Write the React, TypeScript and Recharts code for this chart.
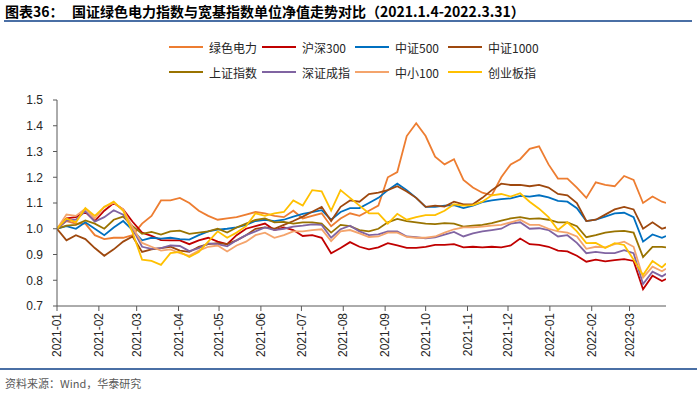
import React from 'react';
import { LineChart, Line, XAxis, YAxis } from 'recharts';

const dates = [
  '2021-01-04','2021-01-11','2021-01-18','2021-01-25','2021-02-01','2021-02-08','2021-02-15','2021-02-22','2021-03-01','2021-03-08',
  '2021-03-15','2021-03-22','2021-03-29','2021-04-05','2021-04-12','2021-04-19','2021-04-26','2021-05-03','2021-05-10','2021-05-17',
  '2021-05-24','2021-05-31','2021-06-07','2021-06-14','2021-06-21','2021-06-28','2021-07-05','2021-07-12','2021-07-19','2021-07-26',
  '2021-08-02','2021-08-09','2021-08-16','2021-08-23','2021-08-30','2021-09-06','2021-09-13','2021-09-20','2021-09-27','2021-10-04',
  '2021-10-11','2021-10-18','2021-10-25','2021-11-01','2021-11-08','2021-11-15','2021-11-22','2021-11-29','2021-12-06','2021-12-13',
  '2021-12-20','2021-12-27','2022-01-03','2022-01-10','2022-01-17','2022-01-24','2022-01-31','2022-02-07','2022-02-14','2022-02-21',
  '2022-02-28','2022-03-07','2022-03-14','2022-03-21','2022-03-28','2022-03-31',
];

const greenPower = [
  1.00,1.03,1.02,1.02,0.975,0.96,0.965,0.965,0.975,1.02,
  1.05,1.11,1.11,1.12,1.10,1.07,1.05,1.035,1.04,1.045,
  1.055,1.065,1.06,1.05,1.045,1.07,1.04,1.05,1.06,1.01,
  1.04,1.06,1.05,1.07,1.09,1.20,1.22,1.36,1.41,1.36,
  1.28,1.25,1.27,1.19,1.16,1.14,1.13,1.20,1.25,1.27,
  1.31,1.32,1.25,1.195,1.195,1.16,1.12,1.18,1.17,1.165,
  1.205,1.19,1.10,1.125,1.105,1.10,
];
const hs300 = [
  1.00,1.04,1.045,1.065,1.03,1.07,1.10,1.075,1.027,0.985,
  0.972,0.956,0.955,0.955,0.94,0.955,0.965,0.95,0.94,0.975,
  1.00,1.01,1.02,0.995,1.005,0.995,0.972,0.975,0.965,0.905,
  0.925,0.948,0.93,0.92,0.928,0.944,0.935,0.926,0.926,0.93,
  0.937,0.937,0.94,0.928,0.93,0.928,0.93,0.928,0.935,0.962,
  0.94,0.937,0.93,0.915,0.912,0.895,0.872,0.88,0.873,0.878,
  0.882,0.875,0.765,0.818,0.797,0.805,
];
const zz500 = [
  1.00,1.01,1.00,1.025,1.00,0.975,1.005,1.03,0.995,0.955,
  0.965,0.962,0.965,0.96,0.958,0.975,0.99,0.997,1.00,1.005,
  1.015,1.03,1.035,1.03,1.035,1.047,1.058,1.065,1.072,1.035,
  1.065,1.08,1.08,1.10,1.12,1.15,1.175,1.15,1.12,1.085,
  1.085,1.09,1.092,1.08,1.09,1.103,1.11,1.115,1.118,1.128,
  1.125,1.13,1.122,1.108,1.105,1.08,1.03,1.035,1.047,1.06,
  1.062,1.045,0.95,0.978,0.965,0.972,
];
const zz1000 = [
  1.00,0.955,0.975,0.96,0.925,0.895,0.92,0.95,0.97,0.91,
  0.92,0.925,0.93,0.915,0.91,0.93,0.94,0.944,0.94,0.955,
  0.975,1.00,1.005,1.00,1.015,1.03,1.047,1.066,1.085,1.03,
  1.085,1.11,1.105,1.135,1.14,1.15,1.165,1.145,1.12,1.085,
  1.09,1.086,1.105,1.095,1.095,1.12,1.15,1.175,1.17,1.17,
  1.165,1.17,1.16,1.135,1.13,1.10,1.03,1.035,1.055,1.075,
  1.085,1.075,1.00,1.025,1.00,1.005,
];
const shComposite = [
  1.00,1.012,1.015,1.032,1.02,1.00,1.035,1.047,1.01,0.98,
  0.988,0.977,0.99,0.993,0.98,0.985,0.99,1.00,0.985,1.005,
  1.02,1.034,1.04,1.025,1.027,1.02,1.025,1.025,1.02,0.985,
  1.015,1.01,0.995,0.99,1.00,1.025,1.038,1.03,1.025,1.02,
  1.018,1.022,1.02,1.008,1.012,1.015,1.022,1.032,1.04,1.045,
  1.038,1.04,1.035,1.025,1.025,1.01,0.967,0.975,0.985,0.99,
  0.992,0.985,0.89,0.93,0.93,0.928,
];
const szComponent = [
  1.00,1.032,1.035,1.068,1.028,1.045,1.072,1.055,1.00,0.93,
  0.922,0.925,0.935,0.933,0.913,0.925,0.943,0.94,0.932,0.955,
  0.975,0.99,1.005,0.995,1.00,1.008,1.012,1.017,1.015,0.965,
  0.998,1.012,0.99,0.975,0.978,0.99,0.99,0.97,0.967,0.963,
  0.967,0.977,0.988,0.97,0.982,0.99,0.995,1.00,1.02,1.025,
  1.00,1.002,0.995,0.97,0.975,0.945,0.905,0.91,0.905,0.905,
  0.917,0.905,0.785,0.833,0.815,0.825,
];
const sme100 = [
  1.00,1.055,1.05,1.078,1.04,1.085,1.10,1.075,1.005,0.945,
  0.93,0.915,0.92,0.905,0.895,0.915,0.93,0.935,0.912,0.935,
  0.95,0.975,0.985,0.965,0.975,0.99,0.99,0.995,0.998,0.952,
  0.99,0.995,0.982,0.968,0.97,0.985,0.985,0.968,0.965,0.965,
  0.97,0.985,0.998,1.005,1.005,1.008,1.012,1.015,1.025,1.035,
  1.015,1.015,1.00,0.99,0.985,0.97,0.922,0.93,0.928,0.94,
  0.95,0.93,0.81,0.853,0.835,0.845,
];
const chinext = [
  1.00,1.04,1.025,1.08,1.05,1.085,1.105,1.07,0.985,0.88,
  0.875,0.86,0.905,0.91,0.89,0.91,0.95,0.99,0.965,0.985,
  1.01,1.06,1.05,1.06,1.065,1.11,1.09,1.15,1.145,1.07,
  1.15,1.12,1.09,1.06,1.06,1.02,1.058,1.035,1.045,1.053,
  1.053,1.07,1.095,1.09,1.092,1.105,1.13,1.135,1.125,1.138,
  1.105,1.078,1.045,0.995,1.025,0.99,0.944,0.945,0.925,0.944,
  0.937,0.88,0.82,0.875,0.85,0.865,
];

const seriesNames = ['绿色电力','沪深300','中证500','中证1000','上证指数','深证成指','中小100','创业板指'];
const seriesColors = ['#ED7D31','#C00000','#0070C0','#9E480E','#997300','#8064A2','#F4A46C','#FFC000'];
const seriesValues = [greenPower, hs300, zz500, zz1000, shComposite, szComponent, sme100, chinext];

const yTicks = [0.7, 0.8, 0.9, 1.0, 1.1, 1.2, 1.3, 1.4, 1.5];
const xTickDates = [
  '2021-01-04','2021-02-04','2021-03-04','2021-04-04','2021-05-04','2021-06-04','2021-07-04','2021-08-04',
  '2021-09-04','2021-10-04','2021-11-04','2021-12-04','2022-01-04','2022-02-04','2022-03-04',
];

const data = dates.map((d, i) => {
  const row: any = { t: Date.parse(d) };
  seriesValues.forEach((vals, j) => { row['s' + j] = vals[i]; });
  return row;
});
const xTicks = xTickDates.map((d) => Date.parse(d));

const FONT = '"Liberation Sans", Arial, "Noto Sans CJK SC", sans-serif';
const CJK = '"Noto Sans CJK SC", "Liberation Sans", sans-serif';

const XTick = (props: any) => {
  const { x, y, payload } = props;
  const d = new Date(payload.value);
  const label = `${d.getUTCFullYear()}-${String(d.getUTCMonth() + 1).padStart(2, '0')}`;
  return (
    <g transform={`translate(${x},${y})`}>
      <text transform="rotate(-90)" textAnchor="end" dy="0.35em" fontSize={12} fill="#262626" fontFamily={FONT}>
        {label}
      </text>
    </g>
  );
};

const legendCols = [169, 262, 355, 448];
const legendRows = [47, 72];

export default function App() {
  return (
    <div style={{ position: 'absolute', left: 0, top: 0, width: 700, height: 397, background: '#fff', overflow: 'hidden' }}>
      <div style={{ position: 'absolute', left: 5, top: 2, fontSize: 14, fontWeight: 'bold', fontFamily: CJK, lineHeight: '18px', color: '#000', whiteSpace: 'nowrap' }}>图表36：</div>
      <div style={{ position: 'absolute', left: 72, top: 2, fontSize: 14, fontWeight: 'bold', fontFamily: CJK, lineHeight: '18px', color: '#000', whiteSpace: 'nowrap' }}>
        国证绿色电力指数与宽基指数单位净值走势对比（2021.1.4-2022.3.31）
      </div>
      <div style={{ position: 'absolute', left: 4, top: 20, width: 688, height: 2, background: '#4A6FA5' }} />

      {seriesNames.map((name, i) => (
        <div key={name} style={{ position: 'absolute', left: legendCols[i % 4], top: legendRows[Math.floor(i / 4)] - 9, height: 18, display: 'flex', alignItems: 'center', whiteSpace: 'nowrap' }}>
          <span style={{ display: 'inline-block', width: 34, height: 2, background: seriesColors[i], marginRight: 6 }} />
          <span style={{ fontSize: 12, fontFamily: CJK, color: '#262626' }}>{name}</span>
        </div>
      ))}

      <LineChart width={700} height={397} data={data} margin={{ top: 100, right: 34, bottom: 31, left: 0 }} style={{ position: 'absolute', left: 0, top: 0 }}>
        <XAxis
          dataKey="t"
          type="number"
          scale="time"
          domain={[Date.parse(dates[0]), Date.parse(dates[dates.length - 1])]}
          ticks={xTicks}
          interval={0}
          tick={<XTick />}
          tickSize={5}
          tickMargin={2}
          height={60}
          axisLine={{ stroke: '#595959' }}
          tickLine={{ stroke: '#595959' }}
          allowDataOverflow
        />
        <YAxis
          type="number"
          domain={[0.7, 1.5]}
          ticks={yTicks}
          interval={0}
          tickFormatter={(v: number) => v.toFixed(1)}
          width={57}
          tickSize={4}
          tickMargin={10}
          tick={{ fontSize: 12, fill: '#262626', fontFamily: FONT }}
          axisLine={{ stroke: '#595959' }}
          tickLine={{ stroke: '#595959' }}
          allowDataOverflow
        />
        {seriesNames.map((name, i) => (
          <Line
            key={name}
            type="linear"
            dataKey={'s' + i}
            name={name}
            stroke={seriesColors[i]}
            strokeWidth={1.8}
            dot={false}
            activeDot={false}
            isAnimationActive={false}
          />
        ))}
      </LineChart>

      <div style={{ position: 'absolute', left: 0, top: 368, width: 697, height: 2, background: '#4A6FA5' }} />
      <div style={{ position: 'absolute', left: 5, top: 375, fontSize: 11, fontFamily: CJK, color: '#595959', lineHeight: '16px', whiteSpace: 'nowrap' }}>
        资料来源：Wind，华泰研究
      </div>
    </div>
  );
}
